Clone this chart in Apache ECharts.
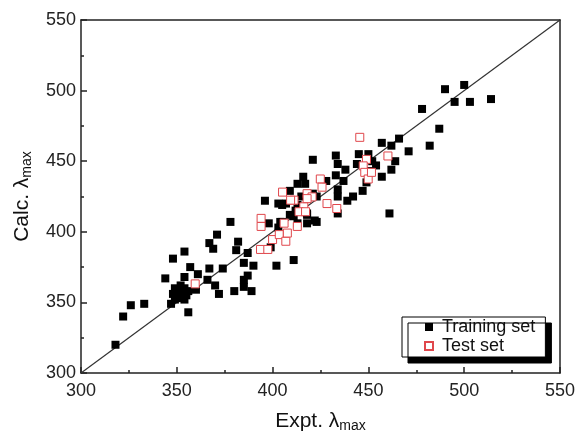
<!DOCTYPE html>
<html>
<head>
<meta charset="utf-8">
<script src="https://cdn.jsdelivr.net/npm/echarts@6/dist/echarts.min.js"></script>
<style>
  html, body { margin: 0; padding: 0; background: #fff; }
  #chart { width: 578px; height: 439px; }
</style>
</head>
<body>
<div id="chart"></div>
<script>
// Axis range and ticks (nm)
const axisMin = 300;
const axisMax = 550;
const tickStep = 50;

// Training set: experimental vs calculated lambda max (nm)
const trainExpt = [
  318, 322, 326, 333, 344, 347, 356,
  349, 350, 351, 352, 353, 354, 355, 349, 356, 348, 352, 354,
  354, 348, 357, 354, 361, 366, 370, 372, 380, 360, 367, 374,
  378, 371, 382, 367, 369, 381,
  387, 385, 390, 387, 385, 389, 385,
  399, 402, 411,
  396, 403, 407, 398, 405, 403, 409, 405, 409, 413, 416, 421, 418, 418, 411, 404, 422, 413, 412,
  417, 421, 433, 434, 438, 445, 450, 452, 444, 451, 449, 457, 462, 428, 433, 437, 434, 434, 439, 442, 447, 423, 415, 413, 418, 434, 423, 461,
  457, 462, 466, 471, 464, 454,
  478, 482, 487, 490, 500, 495, 503, 514
];
const trainCalc = [
  320, 340, 348, 349, 367, 349, 343,
  352, 355, 358, 353, 357, 360, 355, 360, 358, 356, 362, 352,
  386, 381, 375, 368, 370, 366, 362, 356, 358, 359, 374, 374,
  407, 398, 393, 392, 388, 387,
  385, 378, 376, 369, 366, 358, 361,
  389, 376, 380,
  422, 420, 420, 406, 407, 403, 412, 419, 429, 434, 439, 427, 406, 412, 411, 407, 408, 406, 415,
  434, 451, 454, 448, 444, 455, 455, 450, 448, 443, 435, 439, 444, 436, 440, 436, 430, 425, 422, 425, 429, 425, 425, 419, 413, 413, 407, 413,
  463, 461, 466, 457, 450, 447,
  487, 461, 473, 501, 504, 492, 492, 494
];

// Test set: experimental vs calculated lambda max (nm)
const testExpt = [
  445.5, 460.2, 449.0, 447.3, 448.1, 449.9, 424.9, 425.8, 418.0, 420.6, 416.3, 413.8,
  428.4, 433.5, 405.2, 411.2, 418.0, 417.2, 412.9, 394.0, 394.0, 393.7, 400.0, 403.5,
  406.9, 359.6, 397.5, 406.0, 407.7, 409.4, 451.6
];
const testCalc = [
  466.9, 453.7, 451.3, 446.7, 442.1, 437.4, 437.4, 431.6, 427.0, 424.7, 417.7, 414.2,
  420.0, 416.5, 428.1, 422.4, 423.5, 414.2, 403.8, 409.5, 403.8, 387.5, 394.5, 398.0,
  393.3, 363.1, 387.5, 406.1, 399.1, 422.4, 442.1
];

const pairs = (xs, ys) => xs.map((x, i) => [x, ys[i]]);

const font = 'Liberation Sans, Arial, Helvetica, sans-serif';
const frameColor = '#222';

const chart = echarts.init(document.getElementById('chart'), null, { renderer: 'canvas' });

const valueAxisBase = {
  type: 'value',
  min: axisMin,
  max: axisMax,
  interval: tickStep,
  splitLine: { show: false },
  axisLine: { show: true, onZero: false, lineStyle: { color: frameColor, width: 1.5 } },
};

const nameRich = {
  a: { fontFamily: font, fontSize: 21, color: '#111', lineHeight: 26, verticalAlign: 'middle' },
  b: { fontFamily: font, fontSize: 14, color: '#111', lineHeight: 26, verticalAlign: 'bottom', padding: [0, 0, 1, 0] }
};

chart.setOption({
  animation: false,
  backgroundColor: '#fff',
  grid: { left: 81, right: 12, top: 20, bottom: 60, containLabel: false },
  xAxis: [
    Object.assign({}, valueAxisBase, {
      position: 'bottom',
      name: '{a|Expt. λ}{b|max}',
      nameLocation: 'middle',
      nameGap: 35,
      nameTextStyle: { rich: nameRich },
      axisTick: { show: true, inside: true, length: 6, lineStyle: { color: frameColor, width: 1.5 } },
      minorTick: { show: true, splitNumber: 2, length: 3, lineStyle: { color: frameColor, width: 1.5 } },
      axisLabel: { fontFamily: font, fontSize: 18, color: '#222', margin: 9 }
    }),
    Object.assign({}, valueAxisBase, {
      position: 'top',
      axisTick: { show: false },
      axisLabel: { show: false }
    })
  ],
  yAxis: [
    Object.assign({}, valueAxisBase, {
      position: 'left',
      name: '{a|Calc. λ}{b|max}',
      nameLocation: 'middle',
      nameGap: 46,
      nameRotate: 90,
      nameTextStyle: { rich: nameRich },
      axisTick: { show: true, inside: true, length: 6, lineStyle: { color: frameColor, width: 1.5 } },
      minorTick: { show: true, splitNumber: 2, length: 3, lineStyle: { color: frameColor, width: 1.5 } },
      axisLabel: { fontFamily: font, fontSize: 18, color: '#222', margin: 5 }
    }),
    Object.assign({}, valueAxisBase, {
      position: 'right',
      axisTick: { show: false },
      axisLabel: { show: false }
    })
  ],
  legend: {
    orient: 'vertical',
    left: 402,
    top: 317,
    itemWidth: 8,
    itemHeight: 8,
    itemGap: 1,
    padding: [1, 10, 2, 22],
    backgroundColor: '#fff',
    borderColor: '#000',
    borderWidth: 1,
    borderRadius: 0,
    shadowColor: '#000',
    shadowBlur: 0,
    shadowOffsetX: 6,
    shadowOffsetY: 6,
    textStyle: { fontFamily: font, fontSize: 18, color: '#111', padding: [0, 0, 0, 4] },
    data: ['Training set', 'Test set']
  },
  series: [
    {
      name: 'y = x',
      type: 'line',
      data: [[axisMin, axisMin], [axisMax, axisMax]],
      symbol: 'none',
      silent: true,
      lineStyle: { color: '#333', width: 1.2 },
      z: 1
    },
    {
      name: 'Training set',
      type: 'scatter',
      data: pairs(trainExpt, trainCalc),
      symbol: 'rect',
      symbolSize: 8,
      itemStyle: { color: '#000', opacity: 1 },
      z: 2
    },
    {
      name: 'Test set',
      type: 'scatter',
      data: pairs(testExpt, testCalc),
      symbol: 'rect',
      symbolSize: 8,
      itemStyle: { color: '#fff', borderColor: '#e0474c', borderWidth: 1, opacity: 1 },
      z: 3
    }
  ]
});
</script>
</body>
</html>
